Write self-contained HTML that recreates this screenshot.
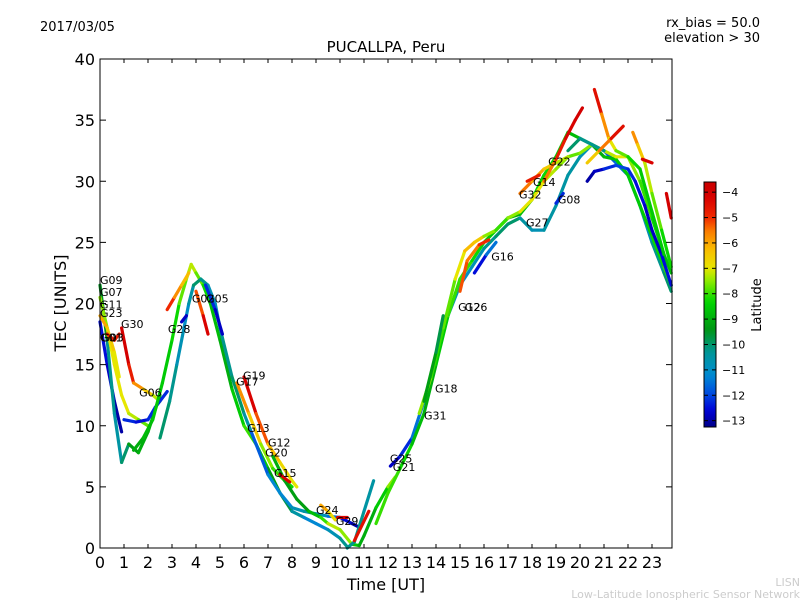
<!DOCTYPE html>
<html><head><meta charset="utf-8"><style>
body{margin:0;background:#fff;}
svg{display:block;font-family:"DejaVu Sans","Liberation Sans",sans-serif;}
</style></head><body>
<svg id="chart" width="800" height="600">
<rect x="0" y="0" width="800" height="600" fill="#fff"/>
<text x="40" y="31" font-size="13">2017/03/05</text>
<text x="760" y="27" font-size="13" text-anchor="end">rx_bias = 50.0</text>
<text x="760" y="42" font-size="13" text-anchor="end">elevation &gt; 30</text>
<text x="386" y="52" font-size="15" text-anchor="middle">PUCALLPA, Peru</text>
<text x="386" y="590" font-size="16" text-anchor="middle">Time [UT]</text>
<text transform="translate(66,303) rotate(-90)" font-size="16" text-anchor="middle">TEC [UNITS]</text>
<text transform="translate(761,305) rotate(-90)" font-size="13" text-anchor="middle">Latitude</text>
<text x="800" y="586" font-size="11" fill="#ccc" text-anchor="end">LISN</text>
<text x="800" y="598" font-size="11" fill="#ccc" text-anchor="end">Low-Latitude Ionospheric Sensor Network</text>
<g id="marks"></g>
<g id="axes"></g>
</svg>
<script>
const xTicks=[0,1,2,3,4,5,6,7,8,9,10,11,12,13,14,15,16,17,18,19,20,21,22,23];
const yTicks=[0,5,10,15,20,25,30,35,40];
const cbTicks=[-4,-5,-6,-7,-8,-9,-10,-11,-12,-13];
// each track: [time, TEC, latitude]
const trackM1=[[0,18.5,-12.5],[0.3,15,-12.5],[0.6,12,-13],[0.9,9.5,-13]];
const trackM2=[[0,21.5,-9],[0.3,17,-10],[0.6,11,-10.5],[0.9,7,-10.5],[1.2,8.5,-9.5],[1.6,7.8,-9],[2,9.5,-9],[2.5,12.5,-9]];
const trackM3=[[0,20.5,-8],[0.3,18,-7],[0.6,15,-7],[0.9,12.5,-7],[1.2,11,-7],[1.6,10.5,-7.5],[2,10,-8]];
const trackM4=[[0,19,-6],[0.3,18,-6],[0.6,16,-7],[0.8,14,-7]];
const trackG01=[[0.3,17.5,-5],[0.6,17,-4.5],[0.8,17.5,-5]];
const trackG30=[[0.9,18,-4],[1.2,15,-4],[1.4,13.5,-5.5],[1.8,13,-6],[2.2,12.5,-7],[2.5,12,-7.5]];
const trackG06=[[1,10.5,-12],[1.5,10.3,-12.5],[2,10.5,-12.5],[2.3,11.5,-12],[2.8,12.8,-12.5]];
const trackM5=[[1.4,8,-9],[1.8,9,-9],[2.2,10.5,-8.5],[2.6,13.5,-8.5],[3,17,-8.5],[3.3,20,-8],[3.6,22,-7.5],[3.8,23.2,-7],[4,22.5,-7.5],[4.3,21.5,-8],[4.6,20,-8.5],[5,17,-9],[5.5,13,-9],[6,10,-8],[6.5,8.5,-8],[7,6.5,-9],[7.5,4.5,-9.5],[8,3,-10],[8.5,2.5,-11],[9,2,-11.5],[9.5,1.5,-11],[10,0.8,-10.5],[10.3,0.1,-10]];
const trackM6=[[2.5,9,-10],[2.9,12,-10],[3.2,15,-10.5],[3.5,18,-11],[3.7,20,-11],[3.9,21.5,-10],[4.2,22,-10],[4.5,21.5,-10.5],[4.8,20,-11],[5,18,-10.5],[5.5,14,-10],[6,11,-10],[6.3,9.5,-11],[6.5,8.5,-12.5],[7,6,-11],[7.5,4.5,-11.5],[8,3.3,-11],[8.5,3,-10.5],[9,2.8,-10.5],[9.5,2.6,-11],[10,2.5,-12],[10.5,2,-13],[10.8,1.7,-13]];
const trackG28=[[3.4,18.5,-12.5],[3.6,19,-13]];
const trackOr=[[2.8,19.5,-4.5],[3.1,20.5,-5.5],[3.4,21.5,-6],[3.7,22.5,-6.5]];
const trackG02=[[4,21,-6],[4.3,19,-4.5],[4.5,17.5,-4]];
const trackG05=[[4.4,21.5,-12],[4.8,19.5,-12.5],[5.1,17.5,-13]];
const trackG19=[[6,14,-4],[6.5,11,-4.5],[7,8.5,-6],[7.5,7,-6.5],[8,5.5,-7],[8.2,5,-7]];
const trackG17=[[5.7,13.5,-5.5],[6.2,11,-6],[6.7,8.5,-7],[7.2,6.5,-8],[7.7,5.5,-8],[8,5,-8.5]];
const trackG12=[[7.2,7.5,-9],[7.7,5.5,-9],[8.2,4,-9.5],[8.7,3,-9],[9.2,2.5,-8.5],[9.5,2,-7.5],[10,1.5,-7],[10.5,0.3,-8],[10.8,0.2,-9],[11,1,-9],[11.5,3.3,-9],[12,5,-8],[12.3,5.8,-7]];
const trackG15=[[7.5,6,-4.5],[7.9,5.4,-4]];
const trackG24=[[9.2,3.5,-5.5],[9.5,3,-6.5],[9.8,2.3,-7]];
const trackG29=[[9.9,2.5,-4.5],[10.3,2.5,-4]];
const trackT1=[[10.3,0,-10],[10.6,0.5,-10.5],[11,3,-10],[11.4,5.5,-11]];
const trackT2=[[10.6,0.6,-5],[11.2,3,-4]];
const trackR1=[[12.1,6.7,-13],[12.5,7.5,-12.5],[13,9,-12],[13.5,12,-11],[14,15.5,-10.5],[14.5,19,-10.5],[15,21.5,-11],[15.5,23,-11],[16,24.5,-10.5],[16.5,25.5,-10],[17,26.5,-10],[17.5,27,-10],[18,26,-11],[18.5,26,-10.5],[19,28,-10.5],[19.5,30.5,-10.5],[20,32,-10.5],[20.5,33,-11],[21,32.5,-11.5],[21.5,31.5,-12],[22,30.5,-11],[22.5,28,-11],[23,25,-10.5],[23.5,22.5,-10],[23.8,21,-10]];
const trackR2=[[11.5,2,-8],[12,4.5,-8],[12.5,6.5,-8],[13,8.5,-8.5],[13.5,11,-9],[14,15,-9],[14.5,19,-8],[15,22,-8],[15.5,23.5,-8],[16,25,-8.5],[16.5,26,-8.5],[17,27,-9],[17.5,27.3,-9],[18,28.5,-8.5],[18.5,30.5,-8],[19,32,-8.5],[19.5,34,-8.5],[20,33.5,-9],[20.5,33,-9],[21,32,-9],[21.5,31.8,-8.5],[22,30.5,-8.5],[22.5,28,-8.5],[23,25.5,-8.5],[23.5,23,-8],[23.8,21.5,-8]];
const trackR3=[[13.3,11,-7],[13.8,14,-8],[14.3,18,-8],[14.8,22,-7.5],[15.2,24.3,-6.5],[15.6,25,-6],[16,25.5,-7],[16.5,26,-8],[17,27,-8],[17.5,27.5,-7],[18,28.5,-7],[18.5,30,-7],[19,31,-7.5],[19.5,32,-7.5],[20,32.3,-8],[20.5,33,-7],[21,32.5,-7.5],[21.5,32,-7],[22,32,-7],[22.5,30,-8],[23,27,-8],[23.5,24,-8.5],[23.8,22.5,-9]];
const trackG18=[[13.5,12,-9],[14,16,-9.5],[14.3,19,-10]];
const trackR5=[[15,21,-5],[15.3,23.5,-5.5],[15.8,24.8,-5.5],[16.2,25.2,-4.5]];
const trackG16=[[15.6,22.5,-13],[16.1,24,-12],[16.5,25,-11]];
const trackG32=[[17.5,29,-5],[18,30,-6],[18.5,31,-6],[19,31.5,-7],[19.5,32,-7.5]];
const trackG14=[[17.8,30,-4.5],[18.3,30.5,-5]];
const trackG22=[[18.5,30,-6],[19,31.8,-5],[19.4,33.5,-4.5],[19.8,35,-4],[20.1,36,-4]];
const trackG08=[[19,28.2,-12.5],[19.3,29,-12]];
const trackU1=[[19.5,32.5,-10],[20,33.5,-10],[20.5,33,-10.5],[21,32.5,-10]];
const trackU2=[[20.3,30,-13],[20.6,30.8,-13],[21,31,-12.5],[21.5,31.3,-12],[22,31,-12],[22.3,30,-12.5],[22.7,28,-12.5],[23,26,-13],[23.4,24,-12.5],[23.8,21.5,-12.5]];
const trackU3=[[20.6,37.5,-4],[20.9,35.5,-5],[21.2,33.5,-6.5],[21.5,32.5,-7.5],[22,32,-8],[22.5,31,-8.5],[23,27.5,-8.5],[23.5,24,-8.5]];
const trackU4=[[20.3,31.5,-7],[20.8,32.5,-6],[21.3,33.5,-5],[21.8,34.5,-4]];
const trackU5=[[22.2,34,-5.5],[22.4,33,-6],[22.7,31.5,-7],[23,29,-7.5],[23.4,26,-8],[23.8,23,-8.5]];
const trackU6=[[22.6,31.8,-4.5],[23,31.5,-4]];
const trackU7=[[23.6,29,-4],[23.8,27,-4]];
const tracks=[trackM1,trackM2,trackM3,trackM4,trackG01,trackG30,trackG06,trackM5,trackM6,trackG28,trackOr,trackG02,trackG05,trackG19,trackG17,trackG12,trackG15,trackG24,trackG29,trackT1,trackT2,trackR1,trackR2,trackR3,trackG18,trackR5,trackG16,trackG32,trackG14,trackG22,trackG08,trackU1,trackU2,trackU3,trackU4,trackU5,trackU6,trackU7];
const satNames=["G09","G07","G11","G23","G01","G03","G30","G28","G06","G02","G05","G17","G19","G13","G12","G20","G15","G24","G29","G25","G21","G31","G18","G12","G26","G16","G27","G08","G32","G14","G22"];
const satTimes=[0,0,0,0,0,0.05,0.875,2.83,1.63,3.83,4.42,5.67,5.96,6.13,7.0,6.88,7.25,9.0,9.83,12.08,12.2,13.5,13.96,14.92,15.2,16.3,17.75,19.08,17.46,18.04,18.67];
const satTec=[21.6,20.6,19.6,18.9,16.9,16.9,18.0,17.6,12.4,20.1,20.1,13.3,13.8,9.5,8.3,7.5,5.8,2.8,1.9,7.0,6.3,10.5,12.7,19.4,19.4,23.5,26.3,28.2,28.6,29.6,31.3];

const NS="http://www.w3.org/2000/svg";
const L=100,R=672,T=59,B=548;
const xs=t=>L+t*24;
const ys=v=>B-v*(B-T)/40;
const cbTop=182,cbBot=427,latMax=-3.6,latMin=-13.25;
const cbY=l=>cbTop+(latMax-l)/(latMax-latMin)*(cbBot-cbTop);
// colormap stops (latitude -> rgb)
const cmap=[[-13.3,[0,0,130]],[-12.6,[0,0,215]],[-12,[0,70,225]],[-11.2,[0,140,210]],[-10.3,[0,150,150]],[-9.4,[0,150,20]],[-8.3,[0,215,0]],[-7.5,[140,235,0]],[-7,[230,230,0]],[-6.2,[250,185,0]],[-5.5,[250,120,0]],[-5,[240,40,0]],[-4.2,[215,0,0]],[-3.5,[200,0,0]]];
function latColor(l){
  if(l<=cmap[0][0]) return `rgb(${cmap[0][1].join(',')})`;
  for(let i=0;i<cmap.length-1;i++){
    const a=cmap[i],b=cmap[i+1];
    if(l<=b[0]){const f=(l-a[0])/(b[0]-a[0]);
      return `rgb(${a[1].map((c,k)=>Math.round(c+(b[1][k]-c)*f)).join(',')})`;}
  }
  return `rgb(${cmap[cmap.length-1][1].join(',')})`;
}
function mk(tag,attrs,parent){const e=document.createElementNS(NS,tag);for(const k in attrs)e.setAttribute(k,attrs[k]);parent.appendChild(e);return e;}
const svg=document.getElementById('chart');
const marks=document.getElementById('marks');
const axes=document.getElementById('axes');

tracks.forEach((tr,ti)=>{
  const g=mk('g',{},marks);
  
  
  for(let i=0;i<tr.length-1;i++){
    const a=tr[i],b=tr[i+1];
    const ln=mk('line',{x1:xs(a[0]),y1:ys(a[1]),x2:xs(b[0]),y2:ys(b[1]),stroke:latColor((a[2]+b[2])/2),'stroke-width':3.2,'stroke-linecap':'round'},g);
    
    
  }
});
satNames.forEach((n,i)=>{
  const t=mk('text',{x:xs(satTimes[i]),y:ys(satTec[i]),'font-size':11},marks);
  t.textContent=n;
  
  
});

const frame=mk('rect',{x:L,y:T,width:R-L,height:B-T,fill:'none',stroke:'#000','stroke-width':1},axes);


xTicks.forEach(v=>{
  const x=xs(v);
  mk('line',{x1:x,y1:B,x2:x,y2:B-4,stroke:'#000'},axes);
  mk('line',{x1:x,y1:T,x2:x,y2:T+4,stroke:'#000'},axes);
  const t=mk('text',{x:x,y:B+20,'font-size':16,'text-anchor':'middle'},axes);
  t.textContent=v;
  
  
});
yTicks.forEach(v=>{
  const y=ys(v);
  mk('line',{x1:L,y1:y,x2:L+6,y2:y,stroke:'#000'},axes);
  mk('line',{x1:R,y1:y,x2:R-6,y2:y,stroke:'#000'},axes);
  const t=mk('text',{x:L-5,y:y+6,'font-size':16,'text-anchor':'end'},axes);
  t.textContent=v;
  
  
});
// colorbar
const defs=mk('defs',{},svg);
const grad=mk('linearGradient',{id:'cbg',x1:0,y1:1,x2:0,y2:0},defs);
for(let i=0;i<=40;i++){const l=latMin+(latMax-latMin)*i/40;mk('stop',{offset:(i/40),'stop-color':latColor(l)},grad);}
const cb=mk('rect',{x:704,y:cbTop,width:12,height:cbBot-cbTop,fill:'url(#cbg)',stroke:'#000','stroke-width':1},axes);


cbTicks.forEach(v=>{
  const y=cbY(v);
  mk('line',{x1:704,y1:y,x2:708,y2:y,stroke:'#000'},axes);
  mk('line',{x1:716,y1:y,x2:712,y2:y,stroke:'#000'},axes);
  const t=mk('text',{x:722,y:y+4,'font-size':11},axes);
  t.textContent='\u2212'+Math.abs(v);
  
  
});
</script>
</body></html>
